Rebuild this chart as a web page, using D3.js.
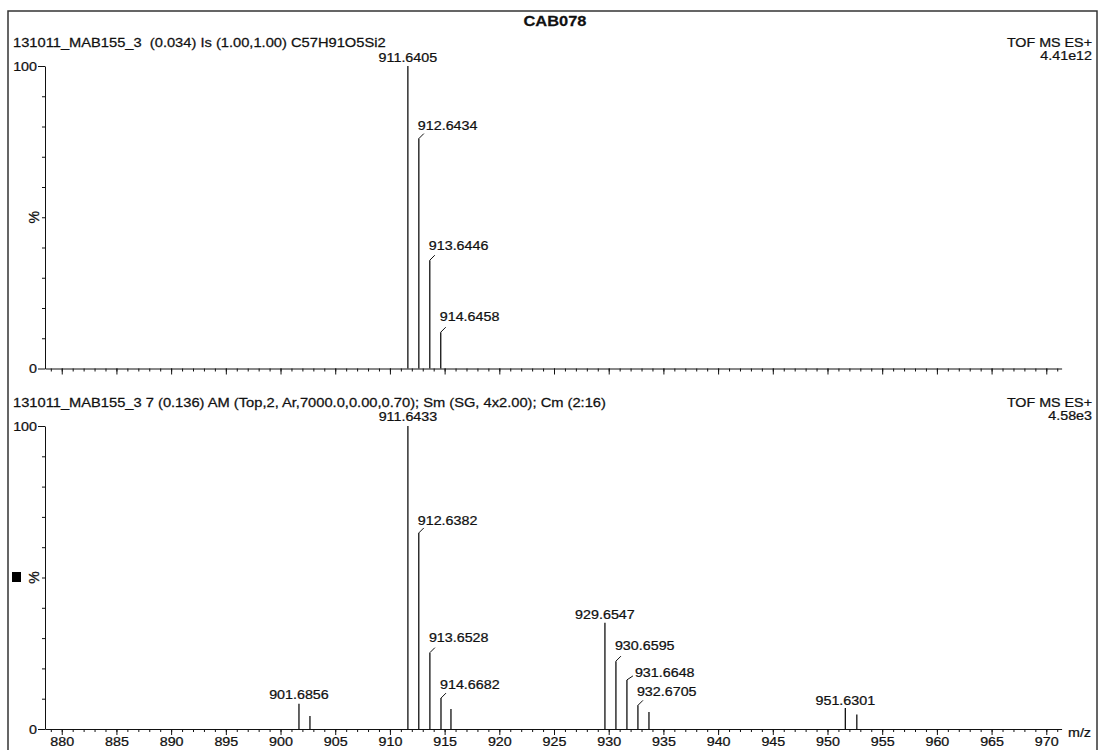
<!DOCTYPE html>
<html><head><meta charset="utf-8">
<script src="https://cdn.jsdelivr.net/npm/d3@7"></script>
<style>
body{margin:0;background:#fff;}
text{font-family:"Liberation Sans",Arial,sans-serif;fill:#111;white-space:pre;stroke:#111;stroke-width:0.25px;}
</style></head>
<body><svg id="c" width="1101" height="750"></svg>
<script>
// ---- data ----
const title = "CAB078";
const topHeader = "131011_MAB155_3  (0.034) Is (1.00,1.00) C57H91O5Si2";
const topRight = ["TOF MS ES+", "4.41e12"];
const topMz = [911.6405, 912.6434, 913.6446, 914.6458];
const topInt = [100, 76, 35.8, 12];
const topLabels = ["911.6405", "912.6434", "913.6446", "914.6458"];

const botHeader = "131011_MAB155_3 7 (0.136) AM (Top,2, Ar,7000.0,0.00,0.70); Sm (SG, 4x2.00); Cm (2:16)";
const botRight = ["TOF MS ES+", "4.58e3"];
const botMz = [901.6856, 902.69, 911.6433, 912.6382, 913.6528, 914.6682, 915.58, 929.6547, 930.6595, 931.6648, 932.6705, 933.68, 951.6301, 952.68];
const botInt = [8.3, 4.3, 100, 64.7, 25.2, 10.2, 6.6, 35.1, 22.4, 16.2, 7.8, 5.6, 6.9, 4.8];
const botLabels = ["901.6856", "", "911.6433", "912.6382", "913.6528", "914.6682", "", "929.6547", "930.6595", "931.6648", "932.6705", "", "951.6301", ""];

const xMajorTicks = d3.range(880, 971, 5);
const xMinorTicks = d3.range(879, 972, 1);
const yLabelTicks = [0, 100];
const yMinorTicks = [10, 20, 30, 40, 50, 60, 70, 80, 90];

// ---- label layout (type, dx, dy) ----
const labelLayout = {
  "911.6405": ["c", 0, -4], "912.6434": ["b", -1, -9], "913.6446": ["b", -1, -10], "914.6458": ["b", -1, -11],
  "901.6856": ["c", 0, -5], "911.6433": ["c", 0, -5], "912.6382": ["b", -1, -8], "913.6528": ["b", -1, -11],
  "914.6682": ["b", -1, -9], "929.6547": ["c", 0, -4], "930.6595": ["b", -1, -11], "931.6648": ["s", 8, -3],
  "932.6705": ["b", -1, -9], "951.6301": ["c", 0, -3]
};

const svg = d3.select("#c");
const FS = 13, SX = 1.1, HSX = 1.13;
svg.append("rect").attr("width", 1101).attr("height", 750).attr("fill", "#fff");
svg.append("rect").attr("x", 8).attr("y", 11).attr("width", 1089).attr("height", 800)
  .attr("fill", "none").attr("stroke", "#333").attr("stroke-width", 1.5);

function txt(g, x, y, s, anchor, opts = {}) {
  const t = g.append("text").attr("transform", `translate(${x},${y}) scale(${opts.sx || SX},1)`)
    .attr("text-anchor", anchor || "start").attr("font-size", opts.fs || FS).text(s);
  if (opts.bold) t.attr("font-weight", "bold");
  return t;
}

txt(svg, 555, 26, title, "middle", {fs: 15.5, bold: true, sx: 1.06});

const x = d3.scaleLinear().domain([878.47, 971.4]).range([45, 1061.6]);

function panel(cfg) {
  const g = svg.append("g");
  const y = d3.scaleLinear().domain([0, 100]).range([cfg.y0, cfg.y100]);
  // header
  txt(g, 13, cfg.y100 - 19, cfg.header, "start", {sx: HSX});
  txt(g, 1092, cfg.y100 - 19, cfg.right[0], "end");
  txt(g, 1092, cfg.y100 - 6, cfg.right[1], "end");
  // y axis
  const ya = g.append("g").attr("transform", "translate(45,0)")
    .call(d3.axisLeft(y).tickValues(yLabelTicks).tickSize(7).tickSizeOuter(0).tickPadding(1).tickFormat(d3.format("d")));
  ya.selectAll("text").attr("font-size", FS).attr("font-family", null).attr("fill", "#111")
    .attr("transform", function () { const tx = +d3.select(this).attr("x"); return `translate(${tx},0) scale(${SX},1) translate(${-tx},0)`; });
  ya.select(".domain").attr("stroke", "#111");
  ya.selectAll("line").attr("stroke", "#111");
  const ym = g.append("g").attr("transform", "translate(45,0)")
    .call(d3.axisLeft(y).tickValues(yMinorTicks).tickSize(3).tickSizeOuter(0).tickFormat(""));
  ym.select(".domain").remove();
  ym.selectAll("line").attr("stroke", "#111");
  // % label
  g.append("text").attr("transform", `translate(39,${y(50)}) rotate(-90)`)
    .attr("text-anchor", "middle").attr("font-size", 14).text("%");
  // x axis
  const xa = g.append("g").attr("transform", `translate(0,${cfg.y0})`)
    .call(d3.axisBottom(x).tickValues(xMajorTicks).tickSize(6).tickSizeOuter(0).tickPadding(2).tickFormat(d3.format("d")));
  xa.select(".domain").attr("stroke", "#111");
  xa.selectAll("line").attr("stroke", "#111");
  xa.selectAll("text").attr("font-size", FS).attr("font-family", null).attr("fill", "#111")
    .attr("transform", `scale(${SX},1)`);
  if (!cfg.labels) xa.selectAll("text").remove();
  const xm = g.append("g").attr("transform", `translate(0,${cfg.y0})`)
    .call(d3.axisBottom(x).tickValues(xMinorTicks).tickSize(3).tickSizeOuter(0).tickFormat(""));
  xm.select(".domain").remove();
  xm.selectAll("line").attr("stroke", "#111");
  // peaks
  const data = cfg.mz.map((m, i) => ({m, v: cfg.int[i], l: cfg.lab[i]}));
  g.selectAll("line.pk").data(data).join("line").attr("class", "pk")
    .attr("x1", d => x(d.m)).attr("x2", d => x(d.m))
    .attr("y1", y(0)).attr("y2", d => y(d.v))
    .attr("stroke", "#111").attr("stroke-width", 1.3);
  data.filter(d => d.l).forEach(d => {
    const L = labelLayout[d.l] || ["c", 0, -4];
    const px = x(d.m), py = y(d.v);
    if (L[0] === "c") {
      txt(g, px, py + L[2], d.l, "middle");
    } else if (L[0] === "b") {
      g.append("path").attr("d", `M${px},${py}L${px + 5},${py - 5}`).attr("stroke", "#111").attr("fill", "none").attr("stroke-width", 1);
      txt(g, px + L[1], py + L[2], d.l, "start");
    } else {
      g.append("path").attr("d", `M${px},${py}L${px + 6},${py - 4}`).attr("stroke", "#111").attr("fill", "none").attr("stroke-width", 1);
      txt(g, px + L[1], py + L[2], d.l, "start");
    }
  });
  return g;
}

panel({y100: 66, y0: 368.5, header: topHeader, right: topRight, mz: topMz, int: topInt, lab: topLabels, labels: false});
panel({y100: 426, y0: 729, header: botHeader, right: botRight, mz: botMz, int: botInt, lab: botLabels, labels: true});

svg.append("rect").attr("x", 12).attr("y", 572).attr("width", 9).attr("height", 10).attr("fill", "#000");
txt(svg, 1068, 737, "m/z", "start");
</script></body></html>
